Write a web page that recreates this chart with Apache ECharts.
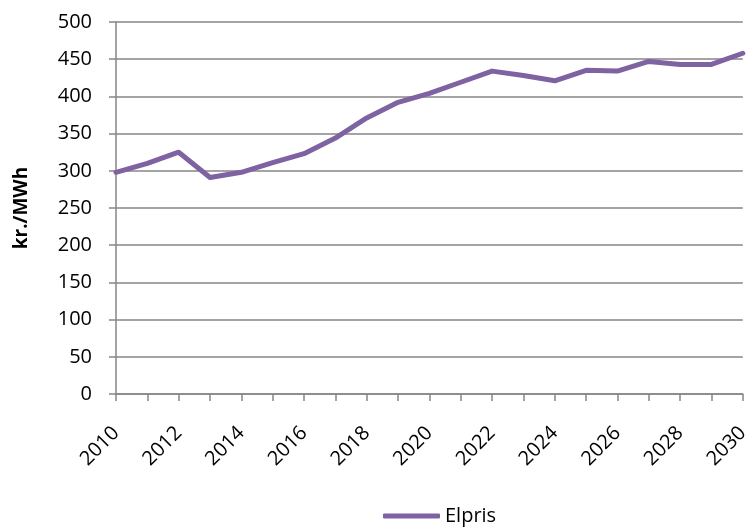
<!DOCTYPE html>
<html>
<head>
<meta charset="utf-8">
<script src="https://cdn.jsdelivr.net/npm/echarts@6/dist/echarts.min.js"></script>
<style>
  html, body { margin: 0; padding: 0; background: #fff; }
  #chart { width: 752px; height: 527px; }
</style>
</head>
<body>
<div id="chart"></div>
<script>
// Electricity price outlook, kr./MWh per year
const years = ['2010','2011','2012','2013','2014','2015','2016','2017','2018','2019','2020',
               '2021','2022','2023','2024','2025','2026','2027','2028','2029','2030'];
const elpris = [298, 310, 325, 291, 298, 311, 323, 344, 371, 392, 404,
                419, 434, 428, 421, 435, 434, 447, 443, 443, 458];
const seriesName = 'Elpris';
const yAxisTitle = 'kr./MWh';

const FONT = '"Open Sans", "Liberation Sans", sans-serif';
const AXIS_GRAY = '#868686';
const PURPLE = '#7E62A1';

const chart = echarts.init(document.getElementById('chart'), null, { renderer: 'canvas' });
chart.setOption({
  animation: false,
  backgroundColor: '#fff',
  textStyle: { fontFamily: FONT },
  grid: { left: 116, right: 4, top: 22, bottom: 133, containLabel: false },
  legend: {
    data: [{ name: seriesName, icon: 'roundRect' }],
    left: 383,
    top: 506,
    padding: 0,
    itemWidth: 57,
    itemHeight: 5,
    textStyle: { fontFamily: FONT, fontSize: 20, color: '#000' }
  },
  xAxis: {
    type: 'category',
    data: years,
    boundaryGap: false,
    axisLine: { show: true, lineStyle: { color: AXIS_GRAY, width: 1.5 } },
    axisTick: { show: true, interval: 0, length: 7, lineStyle: { color: AXIS_GRAY, width: 1.5 } },
    axisLabel: {
      interval: 1,
      rotate: 45,
      margin: 36,
      fontFamily: FONT,
      fontSize: 20,
      color: '#000'
    },
    splitLine: { show: false }
  },
  yAxis: {
    type: 'value',
    min: 0,
    max: 500,
    interval: 50,
    name: yAxisTitle,
    nameLocation: 'middle',
    nameRotate: 90,
    nameGap: 85,
    nameTextStyle: { fontFamily: FONT, fontSize: 19, fontWeight: 'bold', color: '#000' },
    axisLine: { show: true, lineStyle: { color: AXIS_GRAY, width: 1.5 } },
    axisTick: { show: true, length: 7, lineStyle: { color: AXIS_GRAY, width: 1.5 } },
    axisLabel: { margin: 24, fontFamily: FONT, fontSize: 20, color: '#000' },
    splitLine: { show: true, lineStyle: { color: AXIS_GRAY, width: 1.5 } }
  },
  series: [{
    name: seriesName,
    type: 'line',
    data: elpris,
    symbol: 'none',
    color: PURPLE,
    lineStyle: { color: PURPLE, width: 5, cap: 'round', join: 'round' }
  }]
});
</script>
</body>
</html>
